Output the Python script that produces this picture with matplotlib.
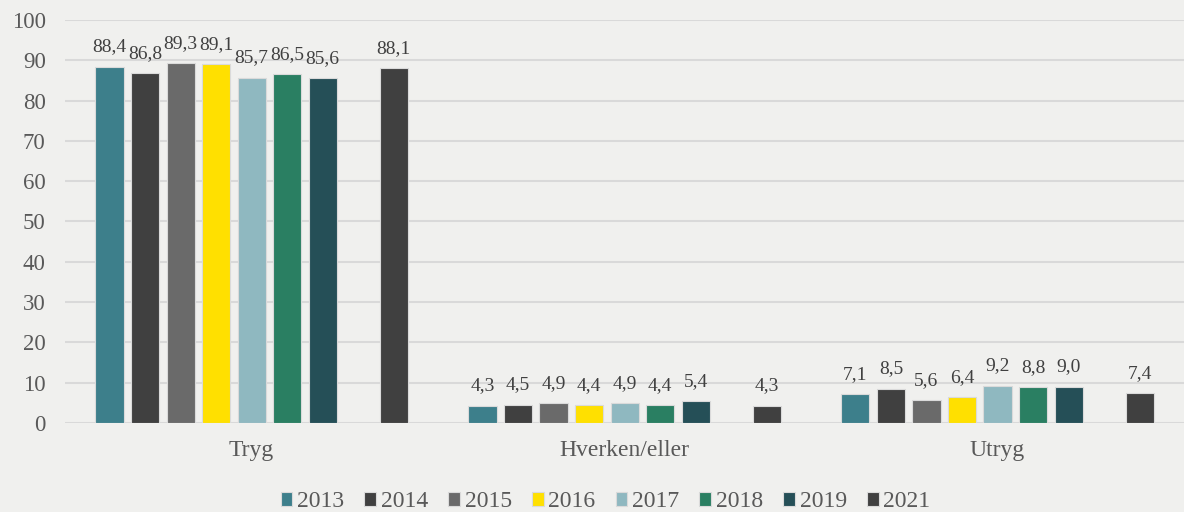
import matplotlib.pyplot as plt
import numpy as np

# Data
kategorier = ['Tryg', 'Hverken/eller', 'Utryg']
aar = ['2013', '2014', '2015', '2016', '2017', '2018', '2019', '2021']
verdier = {
    '2013': [88.4, 4.3, 7.1],
    '2014': [86.8, 4.5, 8.5],
    '2015': [89.3, 4.9, 5.6],
    '2016': [89.1, 4.4, 6.4],
    '2017': [85.7, 4.9, 9.2],
    '2018': [86.5, 4.4, 8.8],
    '2019': [85.6, 5.4, 9.0],
    '2021': [88.1, 4.3, 7.4],
}
farger = ['#3D7F8B', '#404040', '#6A6A6A', '#FFE000', '#8FB8C0', '#2A7F62', '#254F57', '#404040']
# slot index per year (2020 is an empty slot)
plass = [0, 1, 2, 3, 4, 5, 6, 8]

bg = '#F0F0EE'
plt.rcParams['font.family'] = ['Liberation Serif', 'DejaVu Serif']

fig = plt.figure(figsize=(11.84, 5.12), dpi=100, facecolor=bg)
ax = fig.add_axes([0.055, 0.174, 0.945, 0.787], facecolor=bg)

x = np.arange(len(kategorier))
slot = 1 / 10.5
bredde = slot * 0.79
for i, a in enumerate(aar):
    pos = x + (plass[i] - 4) * slot
    ax.bar(pos, verdier[a], bredde, color=farger[i], label=a,
           edgecolor='#DADADA', linewidth=0.8, zorder=3)
    for p, v in zip(pos, verdier[a]):
        ax.text(p, v + 2.8, f'{v:.1f}'.replace('.', ','), ha='center', va='bottom',
                fontsize=14, color='#404040')

ax.set_xlim(-0.5, 2.5)
ax.set_ylim(0, 100)
ax.set_yticks(range(0, 101, 10))
ax.set_xticks(x)
ax.set_xticklabels(kategorier, fontsize=17)
ax.tick_params(axis='both', length=0, colors='#595959')
ax.tick_params(axis='y', labelsize=16.5, pad=14)
ax.tick_params(axis='x', pad=12)
ax.grid(axis='y', color='#D9D9D9', linewidth=1.5, zorder=0)
for s in ax.spines.values():
    s.set_visible(False)

ax.legend(loc='lower center', bbox_to_anchor=(0.483, -0.263), ncol=8, frameon=False,
          fontsize=17, handlelength=0.5, handleheight=0.5, handletextpad=0.2,
          columnspacing=0.85, labelcolor='#595959', borderpad=0.2)

plt.savefig('out.png', dpi=100, facecolor=bg)
